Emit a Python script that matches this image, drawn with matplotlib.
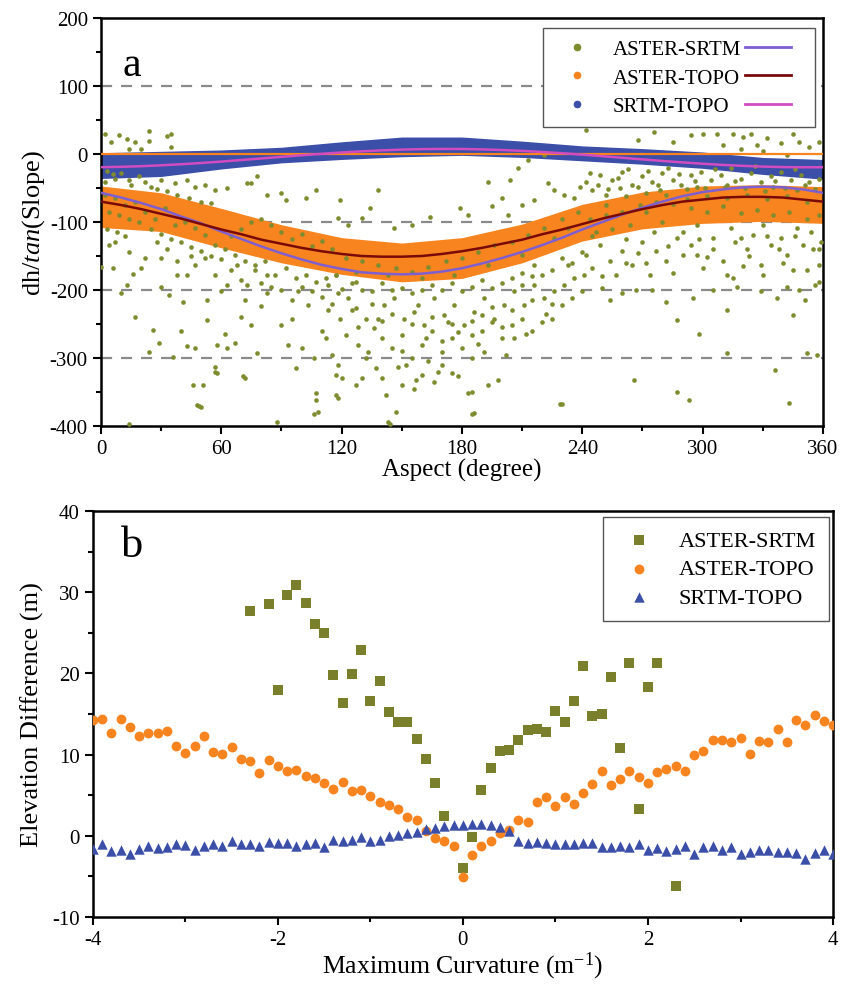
import numpy as np
import matplotlib
matplotlib.use('Agg')
import matplotlib.pyplot as plt
from matplotlib.lines import Line2D
from matplotlib.ticker import MultipleLocator

plt.rcParams['font.family'] = 'Liberation Serif'
plt.rcParams['mathtext.fontset'] = 'custom'
plt.rcParams['mathtext.rm'] = 'Liberation Serif'
plt.rcParams['mathtext.it'] = 'Liberation Serif:italic'
plt.rcParams['axes.unicode_minus'] = False

#########
# colours
#########
olive = '#7f8b2f'
orange = '#f7841e'
blue = '#3b4ea8'
purple = '#7f5fd0'
darkred = '#7a0a0a'
pink = '#d04cc0'
sq_olive = '#7a7f2c'

#########
# panel a data
#########
fit_aspect = [0, 10, 20, 30, 40, 50, 60, 70, 80, 90, 100, 110, 120, 130, 140, 150, 160, 170,
              180, 190, 200, 210, 220, 230, 240, 250, 260, 270, 280, 290, 300, 310, 320, 330,
              340, 350, 360]
fit_aster_srtm = [-57, -64, -72, -81, -92, -102, -114, -125, -136, -146, -155, -163, -169, -174,
                  -176, -177, -176, -173, -168, -161, -153, -144, -134, -123, -111, -100, -89,
                  -79, -70, -62, -56, -52, -49, -48, -49, -52, -57]
fit_aster_topo = [-70, -75, -81, -88, -95, -103, -111, -118, -126, -132, -138, -143, -147, -150,
                  -151, -151, -150, -147, -143, -138, -132, -126, -118, -111, -103, -95, -88,
                  -81, -75, -70, -67, -64, -63, -63, -64, -67, -70]
fit_srtm_topo = [-19.4, -18.8, -17.9, -16.6, -15.0, -13.2, -11.1, -8.8, -6.5, -4.1, -1.8, 0.3,
                 2.3, 4.0, 5.4, 6.5, 7.2, 7.5, 7.4, 6.8, 5.9, 4.6, 3.0, 1.2, -0.9, -3.2, -5.5,
                 -7.9, -10.2, -12.3, -14.3, -16.0, -17.4, -18.5, -19.2, -19.5, -19.4]

# envelopes of the dense point clouds
band_aspect = [0, 30, 60, 90, 120, 150, 180, 210, 240, 270, 300, 330, 360]
topo_upper = [-47, -57, -80, -104, -123, -131, -123, -103, -74, -56, -47, -45, -48]
topo_lower = [-108, -114, -138, -160, -177, -188, -183, -160, -128, -110, -102, -99, -102]
srtm_upper = [2, 4, 6, 10, 18, 25, 25, 19, 12, 8, 3, -5, -8]
srtm_lower = [-36, -33, -22, -13, -8, -4, -2, -5, -10, -15, -21, -30, -37]

# ASTER-SRTM scatter (aspect, dh/tan)
aster_srtm_pts = [
    (2, 30), (9, 28), (13, 22), (24, 34), (33, 27), (35, 30), (24, 19), (17, 18), (5, 18),
    (14, 8), (20, 8), (35, 11),
    (2, -41), (7, -36), (14, -38), (22, -41), (30, -38), (37, -43), (43, -38), (47, -48),
    (52, -46), (57, -53), (63, -50), (73, -43), (78, -33), (75, -43), (83, -60), (90, -58),
    (92, -68), (102, -65), (107, -53),
    (4, -134), (6, -168), (10, -205), (13, -193), (16, -177), (17, -239), (20, -168),
    (24, -291), (26, -259), (29, -278), (30, -195), (34, -207), (36, -298), (38, -178),
    (40, -261), (41, -217), (43, -283), (43, -178), (46, -340), (47, -286), (48, -369),
    (50, -372), (53, -244), (53, -215), (57, -313), (58, -322), (58, -281), (60, -202),
    (62, -264), (63, -286), (67, -278), (70, -239), (71, -327), (72, -215), (73, -193),
    (75, -251), (78, -293), (80, -224), (83, -205), (88, -394), (90, -251), (93, -281),
    (95, -242), (97, -315), (98, -202), (100, -286), (103, -222), (106, -300), (107, -352),
    (107, -362), (108, -379), (110, -261), (112, -271), (113, -229), (115, -296),
    (117, -325), (118, -359), (119, -242), (113, -193), (105, -202), (95, -215), (83, -178),
    (77, -171), (68, -163), (63, -193), (57, -178), (52, -153), (47, -163), (38, -158),
    (30, -153), (22, -153), (14, -144), (7, -129), (0, -166),
    (2, -60), (7, -65), (12, -75), (17, -70), (22, -85), (27, -95), (32, -80), (37, -104),
    (42, -100), (47, -109), (52, -119), (57, -134), (62, -139), (67, -148), (72, -158),
    (77, -163), (82, -158), (87, -178), (92, -168), (97, -183), (102, -178), (107, -188),
    (112, -183), (117, -178),
    (3, -25), (6, -30), (10, -28), (15, -45), (19, -33), (25, -48), (28, -52), (33, -55),
    (38, -60), (44, -64), (50, -70), (55, -72), (4, -85), (9, -90), (14, -96), (19, -100),
    (25, -110), (30, -118), (35, -125), (40, -130), (45, -137), (50, -142), (55, -150),
    (60, -155), (65, -120), (70, -110), (75, -100), (80, -95), (85, -105), (90, -115),
    (95, -125), (100, -118), (105, -135), (110, -128), (115, -140), (3, -110), (8, -115),
    (12, -120), (28, -130), (33, -140), (45, -150), (65, -170), (70, -185), (80, -190),
    (85, -195), (90, -200), (100, -195), (110, -210), (115, -220), (118, -205),
    (138, -53), (134, -79), (119, -68), (193, -41), (179, -79), (204, -38), (208, -21),
    (213, -9), (221, -1), (223, -43), (226, -53), (231, -60), (236, -65), (239, -48),
    (200, -65), (195, -77), (210, -75), (216, -68), (203, -90), (183, -90), (164, -92),
    (155, -104), (146, -109), (123, -104), (130, -94), (118, -94),
    (120, -198), (123, -212), (127, -227), (132, -242), (136, -256), (141, -222),
    (146, -212), (151, -242), (156, -232), (161, -251), (166, -212), (171, -237),
    (176, -222), (181, -251), (186, -232), (191, -212), (196, -242), (201, -222),
    (206, -202), (211, -222), (216, -193), (221, -212), (226, -202), (231, -193),
    (236, -183), (241, -178), (122, -266), (128, -281), (133, -291), (140, -271),
    (145, -286), (150, -266), (155, -300), (160, -281), (165, -261), (170, -291),
    (175, -271), (180, -286), (185, -266), (190, -261), (195, -247), (200, -271),
    (205, -251), (210, -242), (215, -261), (220, -247), (225, -242), (230, -222),
    (235, -212), (118, -310), (127, -340), (130, -330), (142, -354), (147, -379),
    (148, -313), (150, -340), (152, -310), (157, -332), (160, -325), (166, -335),
    (175, -322), (178, -327), (183, -352), (185, -350), (186, -381), (193, -340),
    (198, -332), (206, -271), (143, -394), (229, -367), (117, -354), (120, -330),
    (137, -315), (170, -310), (163, -305), (191, -291), (138, -242), (158, -222),
    (173, -247), (190, -237), (210, -193), (220, -178), (233, -163), (117, -178),
    (127, -188), (135, -202), (150, -197), (165, -193), (180, -202), (195, -197),
    (205, -183), (216, -163), (230, -153), (240, -144),
    (122, -153), (130, -158), (138, -163), (147, -168), (155, -173), (163, -166),
    (172, -158), (180, -153), (188, -144), (196, -134), (205, -129), (213, -119),
    (221, -109), (230, -95), (238, -85), (127, -173), (143, -178), (160, -183),
    (176, -178), (193, -163), (210, -148), (226, -124), (233, -109),
    (125, -190), (130, -200), (140, -190), (145, -200), (155, -205), (160, -200),
    (170, -200), (175, -190), (185, -195), (190, -185), (200, -190), (210, -175),
    (215, -180), (225, -170), (235, -160), (125, -230), (135, -220), (145, -235),
    (155, -250), (165, -240), (175, -250), (185, -245), (195, -225), (205, -230),
    (215, -215), (225, -220), (128, -255), (140, -245), (162, -270), (178, -262),
    (188, -280), (200, -255), (212, -265), (222, -235), (132, -300), (150, -290),
    (170, -275), (185, -300), (202, -295), (168, -320), (156, -345), (140, -330),
    (242, 35), (268, 21), (276, 33), (285, 18), (294, 28), (300, 29), (307, 30), (310, 13),
    (315, 30), (320, 25), (324, 30), (327, 13), (332, 23), (339, 16), (345, 30), (348, 18),
    (353, 11), (358, 18), (319, 8), (330, 4), (342, -1),
    (242, -41), (249, -31), (255, -38), (260, -26), (265, -45), (270, -33), (275, -41),
    (280, -28), (285, -38), (289, -45), (294, -31), (299, -26), (304, -38), (309, -31),
    (314, -21), (319, -36), (324, -28), (329, -41), (334, -33), (339, -26), (344, -38),
    (349, -31), (353, -41), (358, -36), (245, -53), (252, -60), (259, -50), (272, -58),
    (279, -53), (297, -48), (312, -45), (335, -48), (347, -53),
    (244, -28), (248, -45), (253, -52), (258, -35), (263, -22), (268, -48), (273, -25),
    (278, -46), (283, -20), (288, -30), (292, -52), (296, -40), (301, -50), (306, -22),
    (311, -48), (316, -40), (321, -50), (326, -18), (331, -55), (336, -40), (341, -50),
    (346, -22), (351, -45), (356, -52), (252, -75), (262, -62), (272, -85), (282, -60),
    (292, -66), (302, -62), (312, -65), (322, -60), (332, -66), (342, -62), (352, -70),
    (242, -148), (245, -168), (249, -134), (254, -158), (257, -178), (260, -143),
    (265, -163), (270, -129), (274, -178), (277, -143), (282, -158), (287, -124),
    (290, -148), (294, -134), (297, -148), (302, -151), (305, -124), (310, -158),
    (312, -178), (315, -183), (319, -124), (322, -139), (325, -119), (329, -163),
    (330, -178), (334, -134), (339, -124), (342, -148), (345, -170), (350, -134),
    (355, -139), (358, -188), (359, -129), (240, -202), (250, -197), (260, -205),
    (267, -200), (282, -217), (287, -244), (295, -212), (298, -265), (312, -229),
    (317, -195), (329, -202), (337, -212), (342, -195), (345, -237), (351, -215),
    (356, -192), (312, -293), (336, -318), (357, -296), (352, -293), (266, -332),
    (287, -350), (293, -362), (343, -366), (358, -163),
    (245, -120), (255, -110), (262, -125), (268, -145), (276, -115), (283, -135),
    (290, -115), (298, -125), (305, -140), (316, -130), (323, -150), (332, -120),
    (338, -140), (346, -120), (354, -115), (358, -140), (250, -180), (262, -160),
    (272, -160), (285, -175), (300, -168), (320, -165), (340, -160), (352, -170),
    (254, -215), (275, -200), (305, -200), (348, -200),
    (244, -95), (252, -90), (260, -85), (269, -75), (277, -70), (285, -73), (294, -80),
    (302, -85), (310, -77), (319, -87), (327, -82), (335, -90), (343, -85), (352, -95),
    (358, -90), (247, -114), (264, -104), (280, -100), (297, -104), (314, -109),
    (330, -104), (347, -109),
    (14, -397), (106, -383), (144, -397), (185, -383), (230, -367), (51, -340), (49, -370),
    (57, -321), (72, -330),
]

#########
# panel b data
#########
curv = np.round(np.arange(-40, 41) / 10.0, 1)
aster_topo_b = [14.3, 14.4, 12.7, 14.4, 13.4, 12.3, 12.7, 12.6, 12.9, 11.0,
                10.2, 11.1, 12.3, 10.3, 10.1, 10.9, 9.4, 9.2, 7.7, 9.3,
                8.6, 8.0, 8.1, 7.4, 7.1, 6.5, 5.8, 6.6, 5.5, 5.7,
                4.9, 4.2, 3.8, 3.3, 2.3, 1.9, 0.6, -0.3, -0.6, -1.3,
                -5.1, -2.4, -1.2, -0.7, 0.4, 0.7, 2.0, 1.7, 4.2, 4.8,
                3.7, 4.8, 3.9, 5.3, 6.4, 8.0, 6.2, 7.0, 8.0, 7.2,
                6.5, 7.8, 8.2, 8.6, 8.0, 10.0, 10.5, 11.8, 11.8, 11.5,
                12.1, 10.1, 11.7, 11.6, 13.2, 11.6, 14.2, 13.7, 14.9, 14.1,
                13.6]
srtm_topo_b = [-1.6, -1.0, -1.9, -1.8, -2.3, -1.6, -1.2, -1.5, -1.4, -1.0,
               -1.1, -1.7, -1.2, -1.0, -1.2, -0.7, -1.0, -1.0, -1.2, -0.8,
               -0.9, -0.9, -1.3, -1.0, -0.9, -1.4, -0.5, -0.6, -0.5, -0.1,
               -0.7, -0.5, 0.0, 0.1, 0.3, 0.5, 0.8, 1.0, 1.2, 1.3,
               1.3, 1.4, 1.4, 1.3, 1.1, 0.6, -0.6, -0.9, -0.8, -0.9,
               -1.0, -1.0, -1.0, -0.9, -0.9, -1.4, -1.4, -1.3, -1.4, -1.0,
               -1.8, -1.5, -1.9, -1.6, -1.3, -2.2, -1.4, -1.3, -1.8, -1.4,
               -2.2, -2.0, -1.8, -1.8, -2.0, -2.0, -2.1, -2.9, -2.1, -1.8,
               -2.3]
aster_srtm_curv = [-2.3, -2.1, -2.0, -1.9, -1.8, -1.7, -1.6, -1.5, -1.4, -1.3, -1.2, -1.1,
                   -1.0, -0.9, -0.8, -0.7, -0.6, -0.5, -0.4, -0.3, -0.2, 0.0, 0.1, 0.2, 0.3,
                   0.4, 0.5, 0.6, 0.7, 0.8, 0.9, 1.0, 1.1, 1.2, 1.3, 1.4, 1.5, 1.6, 1.7, 1.8,
                   1.9, 2.0, 2.1, 2.3]
aster_srtm_b = [27.7, 28.5, 18.0, 29.7, 30.9, 28.7, 26.1, 25.0, 19.8, 16.4, 19.9, 22.9,
                16.6, 19.1, 15.2, 14.0, 14.0, 11.9, 9.5, 6.5, 2.4, -4.0, -0.2, 5.6, 8.4,
                10.4, 10.6, 11.8, 13.0, 13.1, 12.8, 15.4, 14.0, 16.6, 20.9, 14.8, 15.0, 19.6,
                10.8, 21.3, 3.3, 18.3, 21.3, -6.2]

#########
# figure
#########
fig = plt.figure(figsize=(8.44, 9.87), dpi=100)
ax1 = fig.add_axes([0.1197, 0.5674, 0.8553, 0.4133])
ax2 = fig.add_axes([0.1100, 0.0699, 0.8770, 0.4114])

for ax in (ax1, ax2):
    for s in ax.spines.values():
        s.set_linewidth(1.8)
    ax.tick_params(which='both', direction='out', width=1.5, labelsize=15,
                   top=False, right=False)
    ax.tick_params(which='major', length=6)
    ax.tick_params(which='minor', length=3.5)

# ---- panel a
for yy in [100, -100, -200, -300]:
    ax1.axhline(yy, color='#8a8a8a', lw=1.6, ls=(0, (5, 4)), zorder=0.5)

ax1.fill_between(band_aspect, topo_lower, topo_upper, color=orange, lw=0, zorder=1)
ax1.fill_between(band_aspect, srtm_lower, srtm_upper, color=blue, lw=0, zorder=2)

pts = np.array(aster_srtm_pts, dtype=float)
ax1.scatter(pts[:, 0], pts[:, 1], s=11, color=olive, lw=0, zorder=3)
ax1.axhline(0, color=orange, lw=1.6, zorder=4)
ax1.plot(fit_aspect, fit_aster_srtm, color=purple, lw=1.8, zorder=5)
ax1.plot(fit_aspect, fit_aster_topo, color=darkred, lw=1.8, zorder=5)
ax1.plot(fit_aspect, fit_srtm_topo, color=pink, lw=1.8, zorder=5)

ax1.set_xlim(0, 360)
ax1.set_ylim(-400, 200)
ax1.xaxis.set_major_locator(MultipleLocator(60))
ax1.xaxis.set_minor_locator(MultipleLocator(30))
ax1.yaxis.set_major_locator(MultipleLocator(100))
ax1.yaxis.set_minor_locator(MultipleLocator(50))
ax1.set_xlabel('Aspect (degree)', fontsize=18, labelpad=0)
ax1.set_ylabel(r'dh/$\mathit{tan}$(Slope)', fontsize=19, labelpad=2)
ax1.text(0.043, 0.885, 'a', transform=ax1.transAxes, fontsize=30, ha='center', va='center')

h1 = [Line2D([], [], ls='', marker='o', ms=4.5, color=c) for c in (olive, orange, blue)]
h2 = [Line2D([], [], color=c, lw=2) for c in (purple, darkred, pink)]
leg1 = ax1.legend(h1 + h2, ['ASTER-SRTM', 'ASTER-TOPO', 'SRTM-TOPO', '', '', ''],
                  ncol=2, loc='upper right', bbox_to_anchor=(0.989, 0.975),
                  borderaxespad=0, fontsize=15, frameon=True, fancybox=False,
                  edgecolor='#555555', framealpha=1, handlelength=2.2,
                  columnspacing=0.2, handletextpad=0.6, labelspacing=0.42,
                  borderpad=0.55)
leg1.get_frame().set_linewidth(1.0)
leg1.set_zorder(10)

# ---- panel b
ax2.scatter(aster_srtm_curv, aster_srtm_b, marker='s', s=44, color=sq_olive, lw=0, zorder=3,
            label='ASTER-SRTM')
ax2.scatter(curv, aster_topo_b, marker='o', s=50, color=orange, lw=0, zorder=4,
            label='ASTER-TOPO')
ax2.scatter(curv, srtm_topo_b, marker='^', s=56, color=blue, lw=0, zorder=5,
            label='SRTM-TOPO')

ax2.set_xlim(-4, 4)
ax2.set_ylim(-10, 40)
ax2.xaxis.set_major_locator(MultipleLocator(2))
ax2.xaxis.set_minor_locator(MultipleLocator(1))
ax2.yaxis.set_major_locator(MultipleLocator(10))
ax2.yaxis.set_minor_locator(MultipleLocator(5))
ax2.set_xlabel(r'Maximum Curvature (m$^{-1}$)', fontsize=18.5, labelpad=0)
ax2.set_ylabel('Elevation Difference (m)', fontsize=19, labelpad=6)
ax2.text(0.053, 0.915, 'b', transform=ax2.transAxes, fontsize=32, ha='center', va='center')

leg2 = ax2.legend(loc='upper right', bbox_to_anchor=(0.995, 0.985), borderaxespad=0,
                  fontsize=16, frameon=True, fancybox=False, edgecolor='#555555',
                  framealpha=1, handletextpad=0.8, labelspacing=0.36, borderpad=0.6,
                  scatterpoints=1)
leg2.get_frame().set_linewidth(1.0)

fig.savefig('out.png', dpi=100)
